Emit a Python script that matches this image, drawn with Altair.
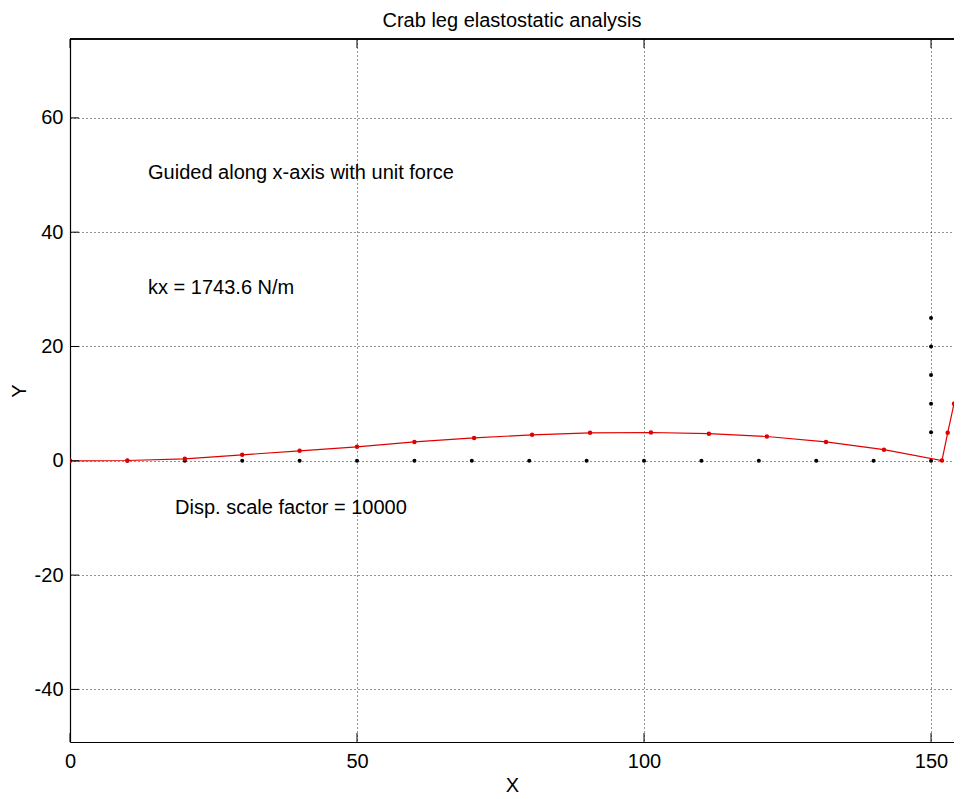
import altair as alt
import pandas as pd

# deformed (red) node positions
red_x = [0, 10, 20, 30, 40, 50, 60, 70.4, 80.5, 90.6, 101.2, 111.3, 121.4, 131.7, 141.8,
         151.9, 152.9, 154.0, 154.8, 155.6, 156.4]
red_y = [0, 0.05, 0.35, 1.05, 1.75, 2.45, 3.3, 4.0, 4.55, 4.9, 4.95, 4.75, 4.25, 3.3, 1.95,
         0.05, 4.9, 10.0, 14.9, 19.9, 24.9]

# undeformed (black) node positions
blk_x = [0, 10, 20, 30, 40, 50, 60, 70, 80, 90, 100, 110, 120, 130, 140, 150,
         150, 150, 150, 150, 150]
blk_y = [0, 0, 0, 0, 0, 0, 0, 0, 0, 0, 0, 0, 0, 0, 0, 0,
         5, 10, 15, 20, 25]

ann_text = ["Guided along x-axis with unit force", "kx = 1743.6 N/m", "Disp. scale factor = 10000"]
ann_x = [13.6, 13.6, 18.3]
ann_y = [50.4, 30.3, -8.2]

x_ticks = [0, 50, 100, 150]
y_ticks = [-40, -20, 0, 20, 40, 60]

X_DOM = [0, 154.0]
Y_DOM = [-49.2, 73.8]
W, H = 884, 703
TICK = 9

red = pd.DataFrame({"x": red_x, "y": red_y, "i": list(range(len(red_x)))})
blk = pd.DataFrame({"x": blk_x, "y": blk_y})
ann = pd.DataFrame({"t": ann_text, "x": ann_x, "y": ann_y})
xt = pd.DataFrame({"x": x_ticks})
yt = pd.DataFrame({"y": y_ticks})

FONT = "Liberation Sans"
FS = 20

xs = alt.Scale(domain=X_DOM, nice=False, zero=False)
ys = alt.Scale(domain=Y_DOM, nice=False, zero=False)

common = dict(grid=True, gridColor="#000", gridDash=[1, 3], gridOpacity=0.85, gridWidth=1,
              labelFontSize=FS, titleFontSize=FS, labelFont=FONT, titleFont=FONT,
              titleFontWeight="normal", labelColor="#000", titleColor="#000",
              domainColor="#000", domainWidth=1.2, tickSize=0, labelFlush=False,
              labelExpr="'' + datum.value")
xaxis = alt.Axis(values=x_ticks, title="X", labelPadding=9, titlePadding=4, **common)
yaxis = alt.Axis(values=y_ticks, title="Y", labelPadding=7, titlePadding=5, **common)

blk_pts = alt.Chart(blk).mark_point(filled=True, color="#000", size=16, opacity=1, clip=True).encode(
    x=alt.X("x:Q", scale=xs, axis=xaxis),
    y=alt.Y("y:Q", scale=ys, axis=yaxis),
)

red_line = alt.Chart(red).mark_line(color="#e00000", strokeWidth=1.2, clip=True).encode(
    x=alt.X("x:Q", scale=xs),
    y=alt.Y("y:Q", scale=ys),
    order="i:Q",
)

red_pts = alt.Chart(red).mark_point(filled=True, color="#e00000", size=20, opacity=1, clip=True).encode(
    x=alt.X("x:Q", scale=xs),
    y=alt.Y("y:Q", scale=ys),
)

texts = alt.Chart(ann).mark_text(align="left", baseline="middle", fontSize=FS, font=FONT,
                                 color="#000").encode(
    x=alt.X("x:Q", scale=xs),
    y=alt.Y("y:Q", scale=ys),
    text="t:N",
)

# top border of the axes box
top_border = alt.Chart(xt).mark_rule(color="#000", strokeWidth=1.2).encode(
    x=alt.value(0), x2=alt.value(W), y=alt.value(0)
)

# inward tick marks (MATLAB style)
xt_bottom = alt.Chart(xt).mark_rule(color="#000", strokeWidth=1).encode(
    x=alt.X("x:Q", scale=xs), y=alt.value(H), y2=alt.value(H - TICK)
)
xt_top = alt.Chart(xt).mark_rule(color="#000", strokeWidth=1).encode(
    x=alt.X("x:Q", scale=xs), y=alt.value(0), y2=alt.value(TICK)
)
yt_left = alt.Chart(yt).mark_rule(color="#000", strokeWidth=1).encode(
    y=alt.Y("y:Q", scale=ys), x=alt.value(0), x2=alt.value(TICK)
)

chart = alt.layer(blk_pts, red_line, red_pts, texts, top_border, xt_bottom, xt_top, yt_left).properties(
    width=W,
    height=H,
    title=alt.TitleParams("Crab leg elastostatic analysis", fontSize=FS, font=FONT,
                          fontWeight="normal", color="#000", anchor="middle", offset=7),
    autosize=alt.AutoSizeParams(type="none"),
    padding={"left": 62, "top": 31, "right": 0, "bottom": 52},
).configure_view(stroke=None).configure(background="white")

chart.save("out.html", embed_options={"renderer": "svg", "actions": False})
